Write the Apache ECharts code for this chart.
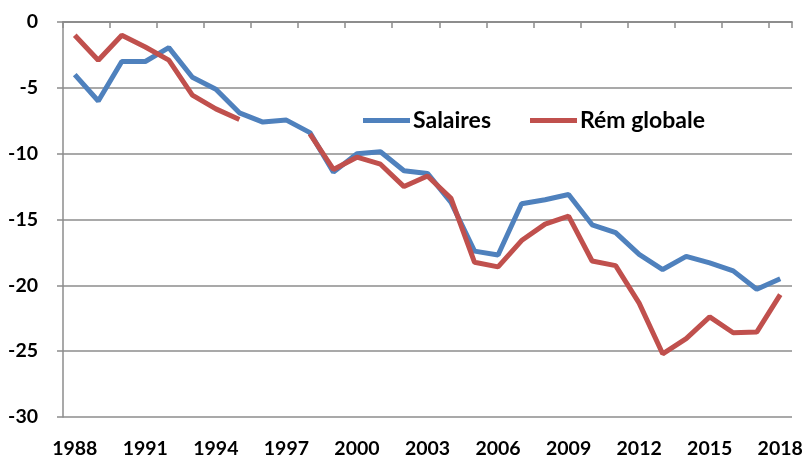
<!DOCTYPE html>
<html>
<head>
<meta charset="utf-8">
<script src="https://cdn.jsdelivr.net/npm/echarts@6/dist/echarts.min.js"></script>
<style>
html, body { margin: 0; padding: 0; background: #fff; }
#main { width: 808px; height: 459px; }
</style>
</head>
<body>
<div id="main"></div>
<script>
var years = [];
for (var y = 1988; y <= 2018; y++) years.push(String(y));

var salaires = [-4.0, -6.0, -3.0, -3.0, -1.95, -4.2, -5.1, -6.9, -7.6, -7.45,
    -8.4, -11.4, -10.0, -9.85, -11.3, -11.5, -13.7, -17.4, -17.7, -13.8,
    -13.5, -13.1, -15.4, -16.0, -17.65, -18.8, -17.8, -18.3, -18.9, -20.3, -19.5];

var remGlobale = [-1.0, -2.9, -1.0, -1.9, -2.9, -5.55, -6.6, -7.4, null, null,
    -8.5, -11.2, -10.27, -10.8, -12.5, -11.7, -13.4, -18.25, -18.6, -16.6,
    -15.35, -14.75, -18.15, -18.5, -21.35, -25.2, -24.05, -22.4, -23.6, -23.55, -20.7];

var gridColor = '#8c8c8c';
var font = 'Lato';

var myChart = echarts.init(document.getElementById('main'));
myChart.setOption({
    animation: false,
    textStyle: { fontFamily: font },
    grid: { left: 63, right: 16, top: 22, bottom: 41 },
    legend: {
        left: 358,
        top: 104,
        itemWidth: 47,
        itemHeight: 5,
        itemGap: 39,
        icon: 'rect',
        textStyle: { fontFamily: font, fontWeight: 'bold', fontSize: 23, color: '#000', padding: [0, 0, 0, -2] },
        data: ['Salaires', 'Rém globale']
    },
    xAxis: [
        {
            type: 'category',
            data: years,
            position: 'bottom',
            boundaryGap: true,
            axisLine: { show: true, lineStyle: { color: gridColor, width: 1.5 } },
            axisTick: { show: false },
            axisLabel: {
                interval: 2,
                margin: 22,
                fontFamily: font,
                fontWeight: 'bold',
                fontSize: 19.5,
                color: '#000'
            }
        },
        {
            type: 'category',
            data: years,
            position: 'top',
            boundaryGap: true,
            axisLine: { show: true, lineStyle: { color: gridColor, width: 1.5 } },
            axisTick: { show: true, inside: true, length: 6, lineStyle: { color: gridColor, width: 1.5 } },
            axisLabel: { show: false }
        }
    ],
    yAxis: {
        type: 'value',
        min: -30,
        max: 0,
        interval: 5,
        axisLine: { show: true, lineStyle: { color: gridColor, width: 1.5 } },
        axisTick: { show: true, length: 6, lineStyle: { color: gridColor, width: 1.5 } },
        splitLine: { show: true, lineStyle: { color: gridColor, width: 1.5 } },
        axisLabel: {
            margin: 25,
            fontFamily: font,
            fontWeight: 'bold',
            fontSize: 19.5,
            color: '#000'
        }
    },
    series: [
        {
            name: 'Salaires',
            type: 'line',
            data: salaires,
            symbol: 'none',
            itemStyle: { color: '#4F81BD' },
            lineStyle: { color: '#4F81BD', width: 5 },
            z: 2
        },
        {
            name: 'Rém globale',
            type: 'line',
            data: remGlobale,
            symbol: 'none',
            connectNulls: false,
            itemStyle: { color: '#C0504D' },
            lineStyle: { color: '#C0504D', width: 5 },
            z: 3
        }
    ]
});
</script>
</body>
</html>
